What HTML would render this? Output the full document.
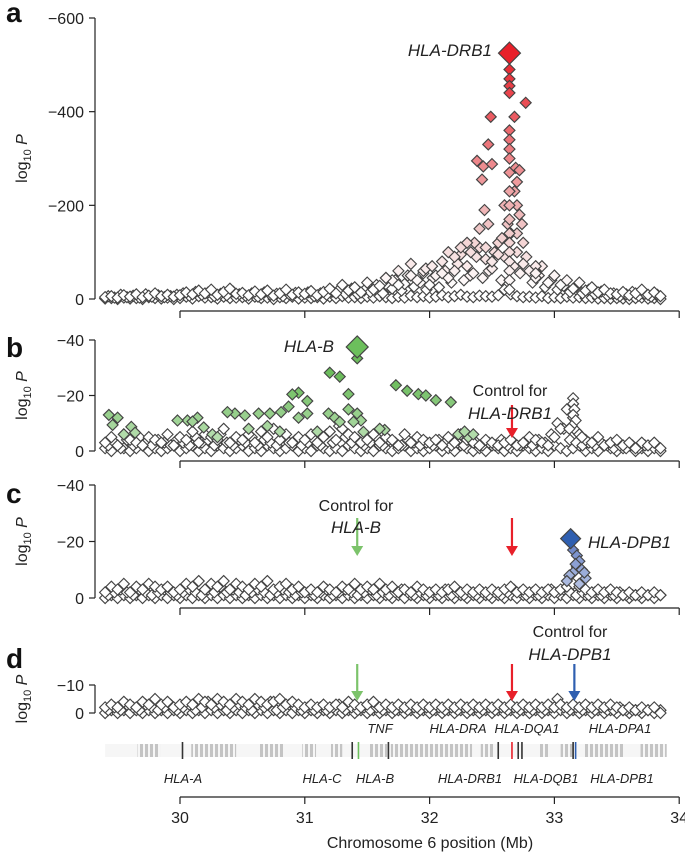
<!DOCTYPE html>
<html><head><meta charset="utf-8"><style>
body{margin:0;background:#fff}
svg{display:block;font-family:"Liberation Sans",sans-serif}
</style></head><body>
<svg id="c" width="685" height="852" viewBox="0 0 685 852" xmlns="http://www.w3.org/2000/svg">
<defs><pattern id="stripe" width="5" height="14" patternUnits="userSpaceOnUse"><rect width="3" height="14" fill="#c4c4c4"/></pattern></defs>
</svg>
<script>
// ---- data ----
const positions = [29.40,29.45,29.50,29.55,29.60,29.65,29.70,29.75,29.80,29.85,29.90,29.95,30.00,30.05,30.10,30.15,30.20,30.25,30.30,30.35,30.40,30.45,30.50,30.55,30.60,30.65,30.70,30.75,30.80,30.85,30.90,30.95,31.00,31.05,31.10,31.15,31.20,31.25,31.30,31.35,31.40,31.45,31.50,31.55,31.60,31.65,31.70,31.75,31.80,31.85,31.90,31.95,32.00,32.05,32.10,32.15,32.20,32.25,32.30,32.35,32.40,32.45,32.50,32.55,32.60,32.65,32.70,32.75,32.80,32.85,32.90,32.95,33.00,33.05,33.10,33.15,33.20,33.25,33.30,33.35,33.40,33.45,33.50,33.55,33.60,33.65,33.70,33.75,33.80,33.85];
const positionsMid = [29.425,29.475,29.525,29.575,29.625,29.675,29.725,29.775,29.825,29.875,29.925,29.975,30.025,30.075,30.125,30.175,30.225,30.275,30.325,30.375,30.425,30.475,30.525,30.575,30.625,30.675,30.725,30.775,30.825,30.875,30.925,30.975,31.025,31.075,31.125,31.175,31.225,31.275,31.325,31.375,31.425,31.475,31.525,31.575,31.625,31.675,31.725,31.775,31.825,31.875,31.925,31.975,32.025,32.075,32.125,32.175,32.225,32.275,32.325,32.375,32.425,32.475,32.525,32.575,32.625,32.675,32.725,32.775,32.825,32.875,32.925,32.975,33.025,33.075,33.125,33.175,33.225,33.275,33.325,33.375,33.425,33.475,33.525,33.575,33.625,33.675,33.725,33.775,33.825];
const aBase = [4,6,3,8,5,10,4,7,12,6,9,5, 8,14,10,18,12,20,9,15,22,11, 13,8,16,10,18,7,12,20,9,14, 11,17,8,15,22,12,30,18,25,14, 35,20,28,45,22,60,32,75,40,55, 30,50,80,45,60,95,70,55,110,85, 65,120,90,140,100,75,60,45,70,35, 50,30,40,22,35,18,25,14,20,12, 10,15,8,12,20,9,14,6];
const aLow = [1,2,0,3,1,2,0,4,2,1,3,0, 2,5,1,6,3,4,1,5,2,3, 4,1,5,2,3,0,4,2,5,1, 3,2,4,1,5,2,6,3,4,2, 5,3,6,4,2,5,3,7,4,6, 3,5,8,4,6,9,5,4,7,6, 5,8,20,10,6,4,5,3,6,2, 4,2,5,3,4,2,3,1,2,1, 2,1,0,2,3,1,2,0];
const aMid = [6,3,9,4,7,3,10,5,8,4,6,9, 12,7,15,9,14,6,11,8,16,10, 7,12,5,14,9,11,6,10,13,8, 14,6,12,9,16,20,11,22,10,18, 15,30,12,25,40,18,50,26,35,20, 45,25,60,35,75,40,50,90,45,60, 100,40,160,70,55,90,35,50,25,40, 20,28,15,26,12,20,10,16,8, 12,6,10,15,7,11,5,9,4];
const aHitPos = [32.49,32.68,32.47,32.38,32.43,32.50,32.42,32.69,32.72,32.44,32.47,32.40,32.36,32.30,32.52,32.50,32.55,32.25,32.20,31.95,31.97,32.02,32.10,31.70,31.65,31.85,32.70,32.72,32.74,32.70,32.75,32.68,32.70,32.85,32.85,32.60,32.58,32.45,32.33,32.15,31.75,32.77,32.64,32.64,32.64,32.64,32.64,32.64,32.64,32.64,32.64,32.64,32.64,32.64,32.64,32.64,32.64,32.64,32.64,32.64,32.64];
const aHitVal = [389,389,330,295,283,288,255,280,275,190,160,150,120,120,100,80,95,110,90,60,65,70,55,40,45,50,200,180,160,140,120,230,250,70,55,200,130,110,100,100,30,419,490,470,455,440,360,340,320,300,270,230,200,170,140,120,100,80,60,40,20];
const aPeak = [32.64, 525];

const bBase = [3,5,2,6,4,3,2,5,4,3,6,2, 5,4,7,3,6,5,4,8,3,5, 4,6,3,7,5,8,4,6,3,5, 4,6,3,5,7,4,8,6,5,3, 4,6,3,5,4,2,6,3,5,4, 3,4,2,5,3,6,4,3,2,4, 3,2,3,4,2,3,5,4,3,2, 5,8,15,12,6,4,3,5,2,3, 4,2,3,1,3,2,3,1];
const bLow = [1,0,2,1,0,1,2,0,1,0,1,2, 0,1,2,0,1,0,2,1,0,1, 2,0,1,0,2,1,0,1,2,0, 1,0,2,1,0,1,0,2,1,0, 1,0,2,1,0,1,2,0,1,0, 1,2,0,1,0,2,1,0,1,0, 2,1,0,1,0,2,1,0,1,0, 2,1,0,1,2,0,1,0,2,1, 0,1,2,0,1,0,1,0];
const bMid = [2,3,1,4,2,5,3,2,4,3,2,4, 3,2,5,3,4,2,6,3,2,4, 3,5,2,4,3,2,5,3,4,2, 3,4,2,6,3,9,5,3,4, 2,3,5,2,4,3,2,4,3,2, 3,2,4,3,2,3,2,4,3,2, 3,2,4,2,3,2,3,2,4, 3,6,10,8,4,3,2,3,2, 3,2,1,2,1,2,1,2];
const bHitPos = [31.42,31.20,31.28,30.95,30.90,31.73,31.82,31.91,31.97,32.05,32.17,31.35,31.35,31.42,31.45,30.87,30.81,30.72,30.63,30.52,30.44,30.38,30.14,30.06,31.02,31.02,30.95,31.19,31.24,31.28,31.39,31.47,29.46,29.61,29.55,29.64,30.10,30.19,29.98,30.26,32.23,32.31,31.64,29.43,29.50,30.55,30.70,31.10,31.60,32.28,32.35,30.30,30.80];
const bHitVal = [33.4,28.2,26.8,21,20.4,23.7,21.7,20.5,20,18.3,17.6,20.5,15,13.5,11,16,14,13.5,13.5,12.8,13.5,14,12,11,18,13.5,12,13.5,12,10.5,10.5,6.9,9.4,8.7,6,6.6,10.6,8.5,11,6,6,5,7.6,13,12,8,9,7,8,7,6,5,7];
const bPeak = [31.42, 37.5];
const bGreyPos = [33.15,33.15,33.16,33.15,33.17,33.14,33.18,33.2,33.22,33.12];
const bGreyVal = [19,17,15,13,11,9,7,6,5,8];

const cBase = [2,4,3,5,2,4,3,5,4,3,4,2, 3,5,4,6,3,5,4,6,3,5, 4,3,5,4,6,3,4,5,3,4, 2,3,2,4,3,2,4,3,5,3, 4,3,5,3,4,2,3,2,4,3, 2,3,2,3,4,2,3,2,3,2, 3,2,3,4,2,3,2,3,2,3, 2,3,4,5,4,3,2,3,2,3, 2,1,2,1,2,1,2,1];
const cLow = [0,1,0,1,0,1,0,1,0,1,0,1, 0,1,0,1,0,1,0,1,0,1, 0,1,0,1,0,1,0,1,0,1, 0,1,0,1,0,1,0,1,0,1, 0,1,0,1,0,1,0,1,0,1, 0,1,0,1,0,1,0,1,0,1, 0,1,0,1,0,1,0,1,0,1, 0,1,0,1,0,1,0,1,0,1, 0,1,0,1,0,1,0,1];
const cMid = [1,2,3,2,1,3,2,1,2,3,2,1, 2,3,2,1,3,2,4,2,3,2, 1,2,3,2,1,2,3,2,1,2, 2,1,2,3,1,2,3,2,1, 2,3,1,2,1,2,3,2,1, 2,1,2,1,3,1,2,1,2,1, 2,1,2,1,2,3,2,1,2, 1,2,3,2,3,2,1,2,1, 2,1,2,1,2,1,1,1];
const cHitPos = [33.15,33.18,33.20,33.18,33.22,33.15,33.12,33.25,33.10,33.20,33.17,33.24];
const cHitVal = [17,15,13,11,10,9,8,7,6,5,12,9];
const cPeak = [33.13, 21];

const dBase = [2,3,2,4,3,2,4,3,5,3,4,2, 3,4,3,5,4,3,5,4,3,5, 4,3,5,4,3,4,5,3,4,3, 2,3,2,3,2,3,2,4,3,2, 3,4,2,3,2,3,2,3,2,3, 2,3,2,3,2,3,2,3,2,3, 2,3,2,3,2,3,2,3,2,3, 2,3,2,3,2,3,2,3,2,3, 2,1,2,1,2,1,2,0];
const dLow = [0,1,0,1,0,1,0,1,0,1,0,1, 0,1,0,1,0,1,0,1,0,1, 0,1,0,1,0,1,0,1,0,1, 0,1,0,1,0,1,0,1,0,1, 0,1,0,1,0,1,0,1,0,1, 0,1,0,1,0,1,0,1,0,1, 0,1,0,1,0,1,0,1,0,1, 0,1,0,1,0,1,0,1,0,1, 0,1,0,1,0,1,0,1];
const dMid = [1,2,1,3,2,1,3,2,1,2,3,1, 2,3,1,2,4,2,3,1,2,3, 2,1,3,2,4,1,2,3,2,1, 2,1,2,1,2,3,1,2,1, 2,1,2,1,2,1,2,1,2, 1,2,1,2,1,2,1,2,1,2, 1,2,1,2,1,2,1,2,1, 2,1,2,5,2,1,2,1,2, 1,2,1,1,2,1,1,1];

const geneBlockStart = [29.66,30.09,30.63,30.98,31.21,31.52,31.69,32.41,32.87,33.05,33.23,33.69];
const geneBlockEnd   = [29.84,30.45,30.84,31.09,31.30,31.66,32.34,32.52,32.95,33.16,33.55,33.90];
const xTicks = [30,31,32,33,34];

// ---- scales ----
const X = mb => 180 + (mb - 30) * 124.8;
const panels = {
  a:{y0:299, k:281/600, ticks:[0,200,400,600], labels:['0','\u2212200','\u2212400','\u2212600'], axisY:311},
  b:{y0:451, k:111/40, ticks:[0,20,40], labels:['0','\u221220','\u221240'], axisY:461},
  c:{y0:598, k:113/40, ticks:[0,20,40], labels:['0','\u221220','\u221240'], axisY:608},
  d:{y0:713, k:2.8, ticks:[0,10], labels:['0','\u221210'], axisY:null}
};
const svg = document.getElementById('c');
const NS = 'http://www.w3.org/2000/svg';
function mk(tag, attrs, parent){ const e=document.createElementNS(NS,tag); for(const k in attrs) e.setAttribute(k,attrs[k]); (parent||svg).appendChild(e); return e; }
function txt(s, attrs, name){ const t=mk('text',attrs); t.textContent=s;
  
  
  return t; }
function mix(c1,c2,t){ t=Math.max(0,Math.min(1,t)); return 'rgb('+c1.map((v,i)=>Math.round(v+(c2[i]-v)*t)).join(',')+')'; }
function diamond(p, mb, v, r, fill, name){
  const cx=X(mb), cy=panels[p].y0 - v*panels[p].k;
  const d=mk('path',{d:`M${cx},${cy-r}L${cx+r},${cy}L${cx},${cy+r}L${cx-r},${cy}Z`,fill:fill,stroke:'#444','stroke-width':1.15});
  
  
}
function axes(p, letter, top){
  const P=panels[p], g=mk('g',{});
  
  
  const ymax=P.y0-P.ticks[P.ticks.length-1]*P.k;
  mk('line',{x1:95,x2:95,y1:ymax,y2:P.y0,stroke:'#222','stroke-width':1.2},g);
  P.ticks.forEach((t,i)=>{ const y=P.y0-t*P.k; mk('line',{x1:89,x2:95,y1:y,y2:y,stroke:'#222','stroke-width':1.2},g);
    txt(P.labels[i],{x:84,y:y+6,'text-anchor':'end','font-size':16,fill:'#222'},'panel-'+p+'-tick-label'); });
  const mid=(ymax+P.y0)/2;
  const t=txt('',{transform:`translate(27,${mid}) rotate(-90)`,'text-anchor':'middle','font-size':16,fill:'#222'},'panel-'+p+'-y-axis-title');
  t.innerHTML='log<tspan font-size="11" dy="4">10</tspan><tspan dy="-4" font-style="italic"> P</tspan>';
  txt(letter,{x:6,y:top,'font-size':28,'font-weight':'bold',fill:'#111'},'panel-'+p+'-letter');
  if(P.axisY){ mk('line',{x1:X(30),x2:X(34),y1:P.axisY,y2:P.axisY,stroke:'#222','stroke-width':1.2},g);
    xTicks.forEach(t=>mk('line',{x1:X(t),x2:X(t),y1:P.axisY,y2:P.axisY+7,stroke:'#222','stroke-width':1.2},g)); }
}
axes('a','a',22); axes('b','b',357); axes('c','c',503); axes('d','d',668);

const white=[255,255,255], pink=[240,200,200], red=[232,32,42];
const lgreen=[200,230,195], green=[108,188,92];
function aColor(v){ return v<25?'#fff': v<150? mix(white,pink,(v-25)/125) : mix(pink,red,(v-150)/370); }
const R=5.5;
// panel a
positions.forEach((m,i)=>{ diamond('a',m,aLow[i],R,'#fff','panel-a-point'); });
positionsMid.forEach((m,i)=>{ diamond('a',m,aMid[i],R,aColor(aMid[i]),'panel-a-point'); });
positions.forEach((m,i)=>{ diamond('a',m,aBase[i],R,aColor(aBase[i]),'panel-a-point'); });
aHitPos.forEach((m,i)=>diamond('a',m,aHitVal[i],R,aColor(aHitVal[i]),'panel-a-point'));
diamond('a',aPeak[0],aPeak[1],11,'#e8202a','hla-drb1-peak');
// panel b
positions.forEach((m,i)=>{ diamond('b',m,bLow[i],R,'#fff','panel-b-point'); });
positionsMid.forEach((m,i)=>{ diamond('b',m,bMid[i],R,'#fff','panel-b-point'); });
positions.forEach((m,i)=>{ diamond('b',m,bBase[i],R,'#fff','panel-b-point'); });
bGreyPos.forEach((m,i)=>diamond('b',m,bGreyVal[i],R,'#fff','panel-b-point'));
bHitPos.forEach((m,i)=>diamond('b',m,bHitVal[i],R,mix(lgreen,green,bHitVal[i]/25),'panel-b-point'));
diamond('b',bPeak[0],bPeak[1],11,'#6cbf5c','hla-b-peak');
// panel c
positions.forEach((m,i)=>{ diamond('c',m,cLow[i],R,'#fff','panel-c-point'); });
positionsMid.forEach((m,i)=>{ diamond('c',m,cMid[i],R,'#fff','panel-c-point'); });
positions.forEach((m,i)=>{ diamond('c',m,cBase[i],R,'#fff','panel-c-point'); });
cHitPos.forEach((m,i)=>diamond('c',m,cHitVal[i],R,mix([200,210,235],[110,135,200],cHitVal[i]/18),'panel-c-point'));
diamond('c',cPeak[0],cPeak[1],10,'#2f5fb0','hla-dpb1-peak');
// panel d
positions.forEach((m,i)=>{ diamond('d',m,dLow[i],R,'#fff','panel-d-point'); });
positionsMid.forEach((m,i)=>{ diamond('d',m,dMid[i],R,'#fff','panel-d-point'); });
positions.forEach((m,i)=>{ diamond('d',m,dBase[i],R,'#fff','panel-d-point'); });

// arrows
function arrow(mb,y1,y2,col,name){
  const g=mk('g',{});
  
  
  const x=X(mb);
  mk('line',{x1:x,x2:x,y1:y1,y2:y2-8,stroke:col,'stroke-width':2.2},g);
  mk('path',{d:`M${x-6},${y2-10}L${x+6},${y2-10}L${x},${y2}Z`,fill:col},g);
}
arrow(32.66,405,438,'#e8202a','control-arrow-drb1-b');
arrow(31.42,518,556,'#7cc36b','control-arrow-b-c');
arrow(32.66,518,556,'#e8202a','control-arrow-drb1-c');
arrow(31.42,664,701,'#7cc36b','control-arrow-b-d');
arrow(32.66,664,701,'#e8202a','control-arrow-drb1-d');
arrow(33.16,664,701,'#2f5fb0','control-arrow-dpb1-d');

// annotations
txt('HLA-DRB1',{x:492,y:56,'text-anchor':'end','font-size':17,'font-style':'italic',fill:'#222'},'hla-drb1-label');
txt('HLA-B',{x:334,y:352,'text-anchor':'end','font-size':17,'font-style':'italic',fill:'#222'},'hla-b-label');
txt('Control for',{x:510,y:396,'text-anchor':'middle','font-size':16,fill:'#222'},'control-label');
txt('HLA-DRB1',{x:510,y:419,'text-anchor':'middle','font-size':17,'font-style':'italic',fill:'#222'},'control-label-gene');
txt('Control for',{x:356,y:511,'text-anchor':'middle','font-size':16,fill:'#222'},'control-label');
txt('HLA-B',{x:356,y:533,'text-anchor':'middle','font-size':17,'font-style':'italic',fill:'#222'},'control-label-gene');
txt('HLA-DPB1',{x:588,y:548,'font-size':17,'font-style':'italic',fill:'#222'},'hla-dpb1-label');
txt('Control for',{x:570,y:637,'text-anchor':'middle','font-size':16,fill:'#222'},'control-label');
txt('HLA-DPB1',{x:570,y:660,'text-anchor':'middle','font-size':17,'font-style':'italic',fill:'#222'},'control-label-gene');

// gene track
const gt=mk('g',{});


mk('rect',{x:X(29.4),y:744,width:X(33.9)-X(29.4),height:13,fill:'#f0f0f0',opacity:0.6},gt);
geneBlockStart.forEach((s,i)=>mk('rect',{x:X(s),y:744,width:X(geneBlockEnd[i])-X(s),height:13,fill:'url(#stripe)'},gt));
const genes=[['HLA-A',30.02,183,783,'#333'],['HLA-C',31.38,322,783,'#333'],['HLA-B',31.43,375,783,'#6cbf5c'],['TNF',31.67,380,733,'#333'],['HLA-DRA',32.55,458,733,'#333'],['HLA-DRB1',32.66,470,783,'#e8202a'],['HLA-DQA1',32.71,527,733,'#333'],['HLA-DQB1',32.74,546,783,'#333'],['HLA-DPA1',33.15,620,733,'#333'],['HLA-DPB1',33.17,622,783,'#2f5fb0']];
genes.forEach(g=>{
  mk('line',{x1:X(g[1]),x2:X(g[1]),y1:742,y2:759,stroke:g[4],'stroke-width':1.6},gt);
  txt(g[0],{x:g[2],y:g[3],'text-anchor':'middle','font-size':13,'font-style':'italic',fill:'#222'},'gene-label');
});
// bottom axis
const bx=mk('g',{});


mk('line',{x1:X(30),x2:X(34),y1:797,y2:797,stroke:'#222','stroke-width':1.2},bx);
xTicks.forEach(t=>{ mk('line',{x1:X(t),x2:X(t),y1:797,y2:804,stroke:'#222','stroke-width':1.2},bx);
  txt(String(t),{x:X(t),y:823,'text-anchor':'middle','font-size':16,fill:'#222'},'x-tick-label'); });
txt('Chromosome 6 position (Mb)',{x:430,y:848,'text-anchor':'middle','font-size':16,fill:'#222'},'x-axis-title');
</script>
</body></html>
